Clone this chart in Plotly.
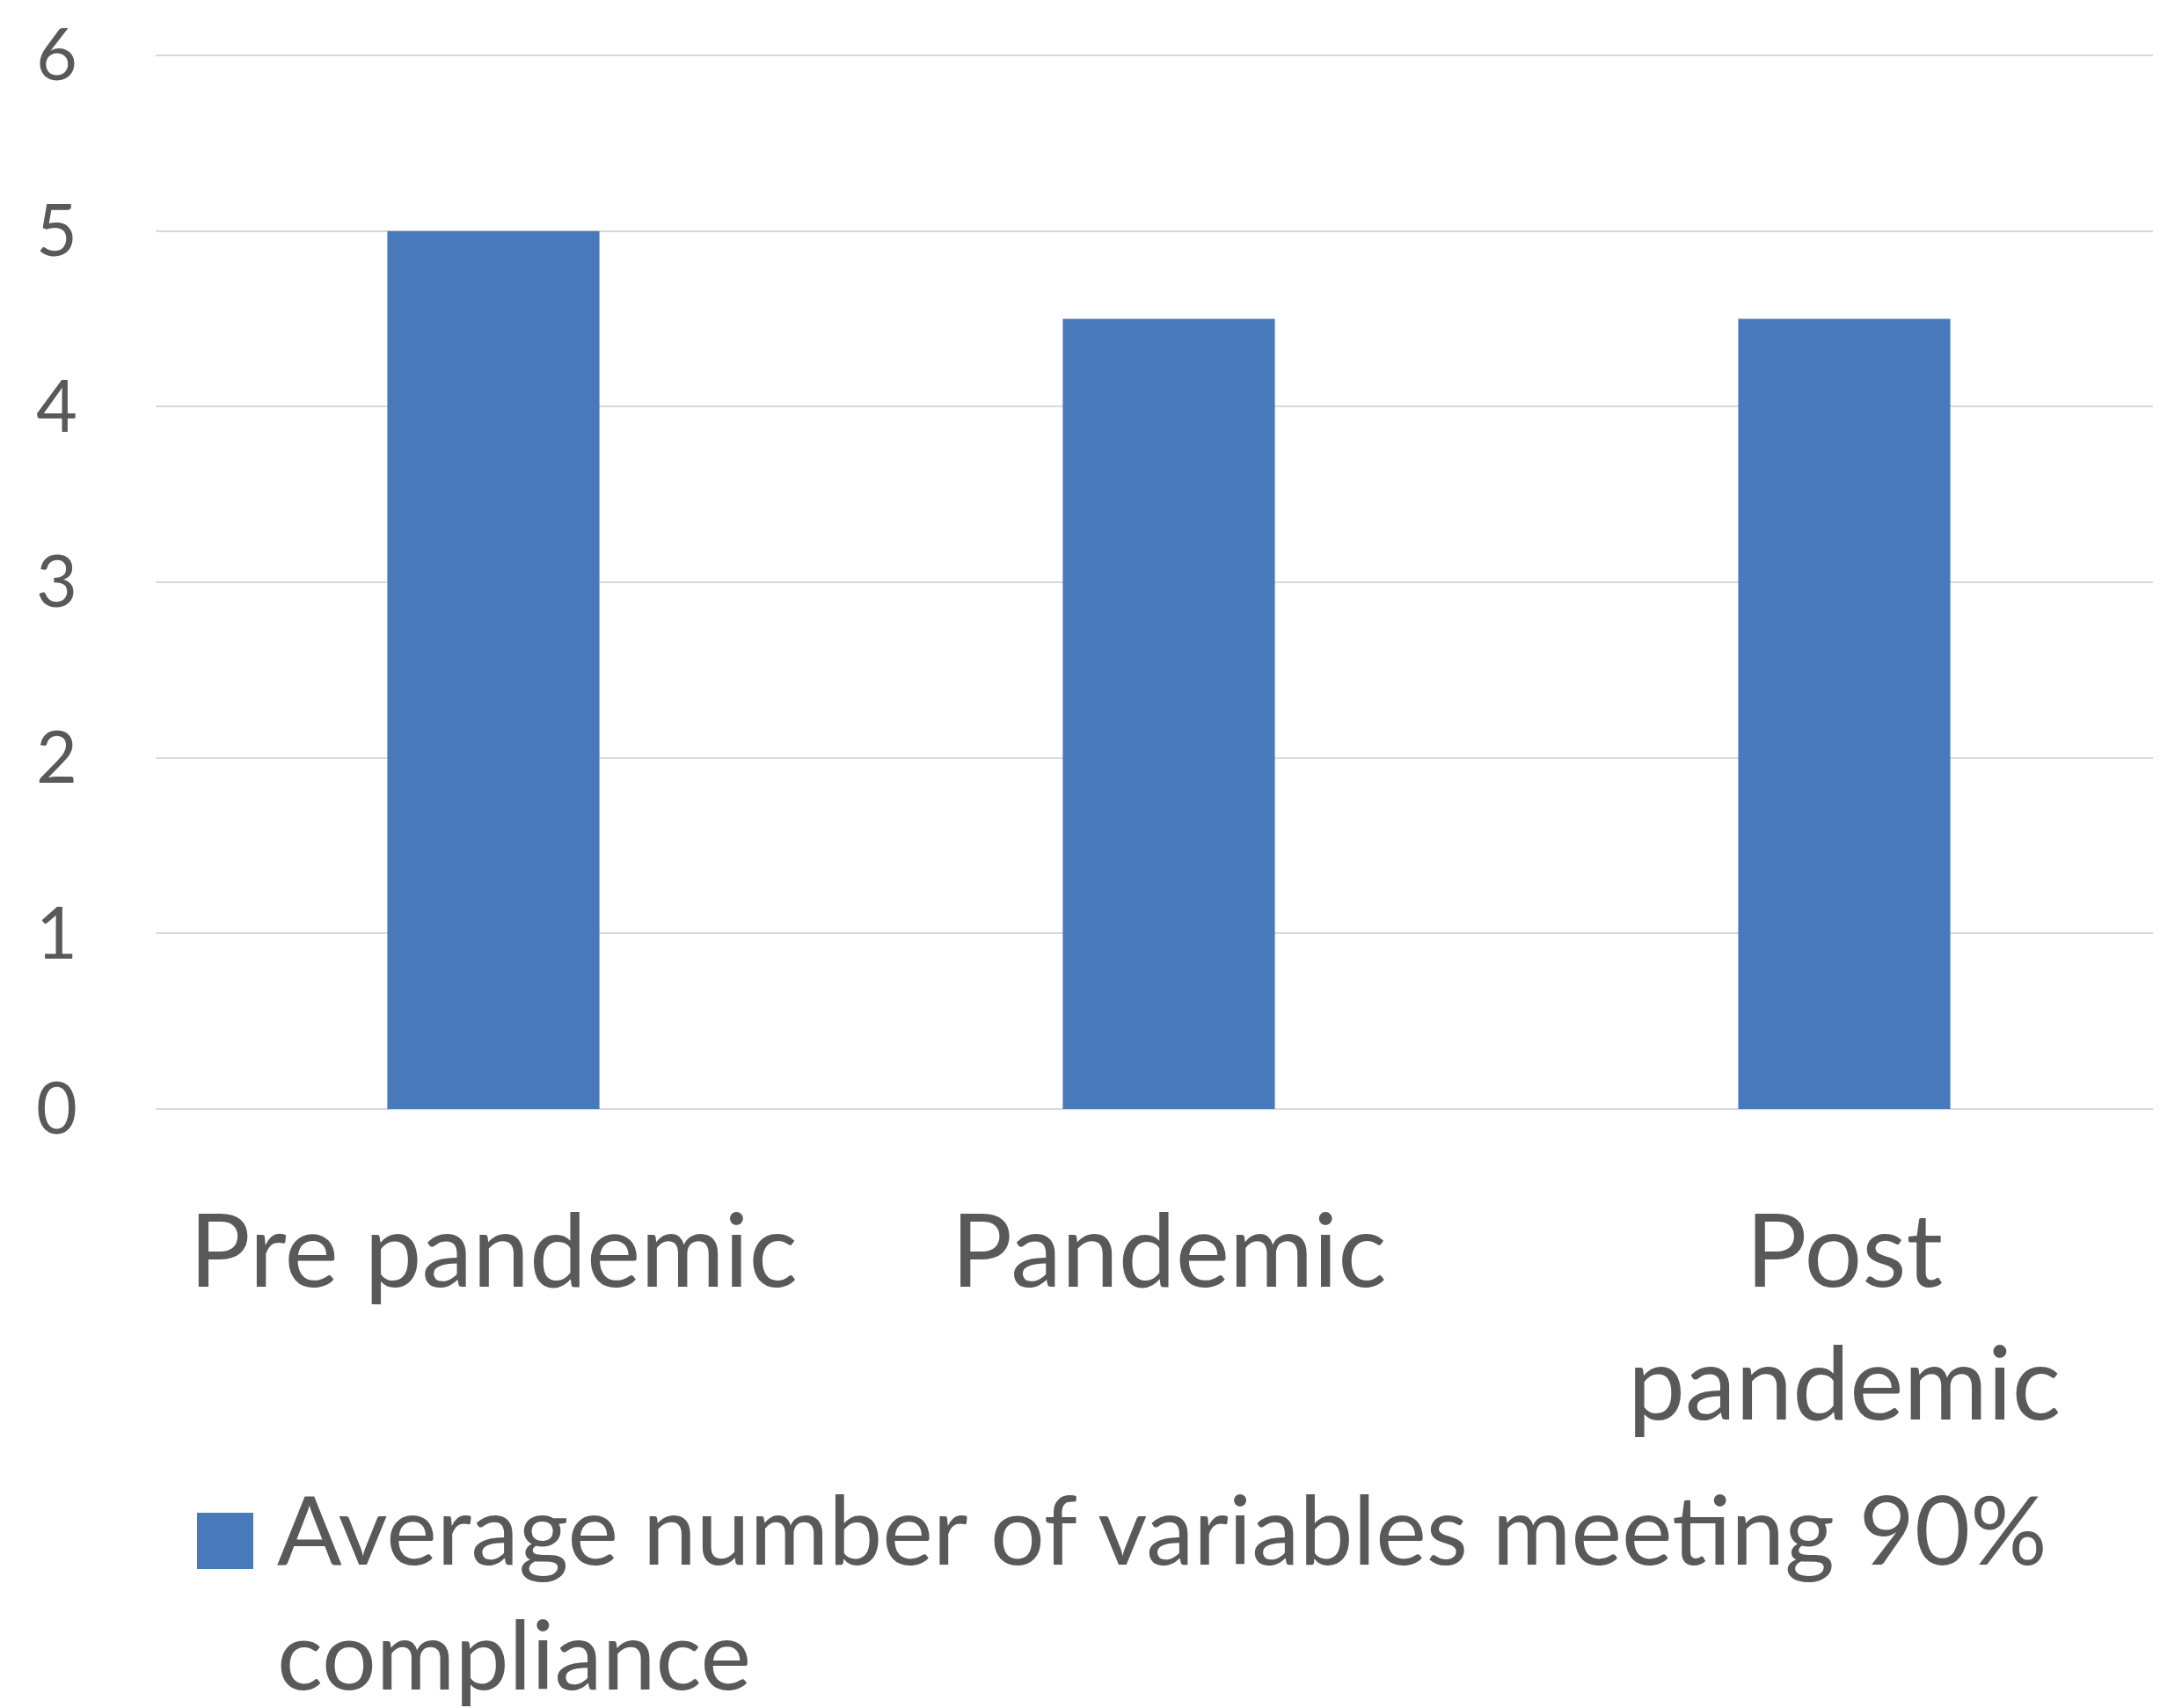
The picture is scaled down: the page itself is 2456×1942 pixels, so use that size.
import plotly.graph_objects as go

categories = ["Pre pandemic", "Pandemic", "Post<br>pandemic"]
values = [5, 4.5, 4.5]
series_name = "Average number of variables meeting 90%<br>compliance"
y_ticks = [0, 1, 2, 3, 4, 5, 6]

W, H = 2456, 1942
unit = 199.67
B_px = 1253
ytop = 6.03
L = 169
T = round(B_px - ytop * unit)
R_px = 2456
pw, ph = R_px - L, B_px - T

def px_x(p):
    return (p - L) / pw

def px_y(p):
    return (B_px - p) / ph

font = "Lato, 'Open Sans', sans-serif"
txt = "#595959"
bar_color = "#4779BB"

fig = go.Figure()
fig.add_trace(go.Bar(x=categories, y=values, marker=dict(color=bar_color, line=dict(width=0)),
                     width=0.314, name=series_name, showlegend=False))

fig.update_layout(
    width=W, height=H,
    margin=dict(l=L, r=W - R_px, t=T, b=H - B_px, pad=0),
    paper_bgcolor="white", plot_bgcolor="white",
    font=dict(family=font, color=txt),
    showlegend=False,
)
fig.update_xaxes(type="category", range=[-0.5, -0.5 + pw / 768], showgrid=False, showline=False,
                 zeroline=False, tickfont=dict(size=116, color=txt, family=font),
                 ticks="", ticklabelstandoff=85)
fig.update_yaxes(range=[0, ytop], tickvals=y_ticks, showgrid=True, gridcolor="#D9D9D9", gridwidth=2,
                 zeroline=True, zerolinecolor="#D9D9D9", zerolinewidth=2, showline=False,
                 tickfont=dict(size=81, color=txt, family=font), ticks="", ticklabelstandoff=88)

# legend swatch and text
fig.add_shape(type="rect", xref="paper", yref="paper",
              x0=px_x(216), x1=px_x(280), y0=px_y(1776), y1=px_y(1712),
              fillcolor=bar_color, line=dict(width=0))
fig.add_annotation(xref="paper", yref="paper", x=px_x(305), y=px_y(1661), xanchor="left", yanchor="top",
                   text=series_name, showarrow=False, align="left",
                   font=dict(size=109, color=txt, family=font))

fig.write_html("out.html")
